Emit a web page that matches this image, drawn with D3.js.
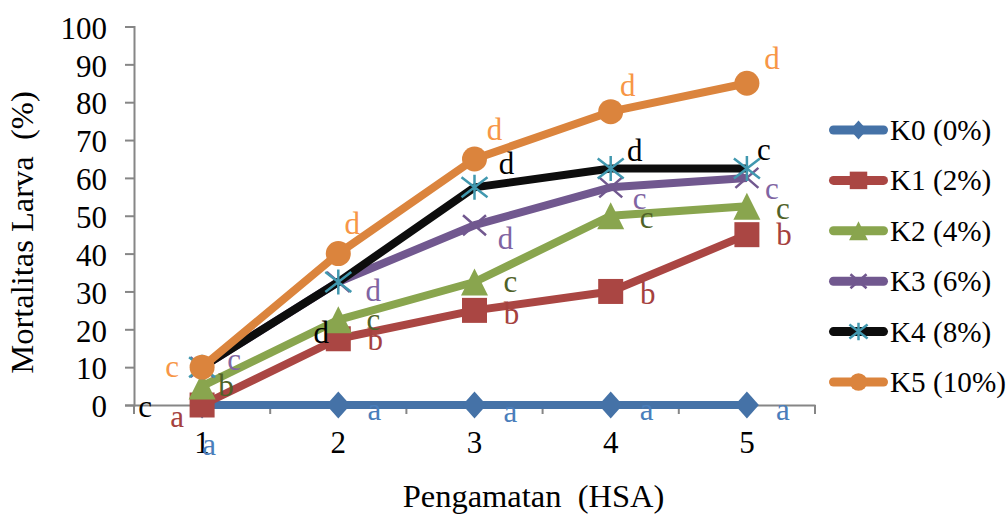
<!DOCTYPE html>
<html>
<head>
<meta charset="utf-8">
<script src="https://cdn.jsdelivr.net/npm/d3@7/dist/d3.min.js"></script>
<style>
  html, body { margin: 0; padding: 0; background: #fff; }
  svg { display: block; }
  text { font-family: "Liberation Serif", "Times New Roman", serif; }
</style>
</head>
<body>
<svg id="chart" width="1007" height="516"></svg>
<script>
// ---- data ----
const categories = ["1", "2", "3", "4", "5"];
const seriesNames = ["K0 (0%)", "K1 (2%)", "K2 (4%)", "K3 (6%)", "K4 (8%)", "K5 (10%)"];
const k0 = [0, 0, 0, 0, 0];
const k1 = [0, 17.5, 25, 30, 45];
const k2 = [5, 22.5, 32.5, 50, 52.5];
const k3 = [10, 32.5, 47.5, 57.5, 60];
const k4 = [10, 32.5, 57.5, 62.5, 62.5];
const k5 = [10, 40, 65, 77.5, 85];
const k0Letters = ["a", "a", "a", "a", "a"];
const k1Letters = ["a", "b", "b", "b", "b"];
const k2Letters = ["b", "c", "c", "c", "c"];
const k3Letters = ["c", "d", "d", "c", "c"];
const k4Letters = ["c", "d", "d", "d", "c"];
const k5Letters = ["c", "d", "d", "d", "d"];
const yTicks = [0, 10, 20, 30, 40, 50, 60, 70, 80, 90, 100];
const xTitle = "Pengamatan  (HSA)";
const yTitle = "Mortalitas Larva  (%)";

// ---- styles ----
const lineColors = ["#4572A7", "#AA4643", "#89A54E", "#71588F", "#0d0d0d", "#DB843D"];
const markerColors = ["#4572A7", "#AA4643", "#89A54E", "#71588F", "#4198AF", "#DB843D"];
const labelColors = ["#4A7EBB", "#A5413E", "#4F6228", "#8064A2", "#000000", "#F79646"];
const markerTypes = ["diamond", "square", "triangle", "x", "star", "circle"];
// label placement offsets (pixels from the point: dx, dy of glyph center)
const labelOffsets = [
  [[7, 43], [36, 8], [36, 10], [36, 8], [36, 8]],
  [[-25, 15], [37, 1], [37, 3], [37, 2], [37, 0]],
  [[24, -1], [35, 3], [36, 3], [36, 5], [36, 6]],
  [[32, -4], [35, 9], [31, 13], [29, 15], [25, 14]],
  [[-57, 43], [-17, 51], [32, -24], [24, -18], [17, -15]],
  [[-30, 3], [14, -30], [20, -29], [17, -26], [25, -25]]
];

const values = [k0, k1, k2, k3, k4, k5];
const letters = [k0Letters, k1Letters, k2Letters, k3Letters, k4Letters, k5Letters];

const svg = d3.select("#chart");
const plotLeft = 134, plotRight = 815, plotTop = 26.5, plotBottom = 405;
const axisColor = "#868686";
const tickFont = 31, titleFont = 32.5, labelFont = 31, legendFont = 29.2;

const x = d3.scaleBand().domain(categories).range([plotLeft, plotRight]);
const y = d3.scaleLinear().domain([0, 100]).range([plotBottom, plotTop]);
const cx = c => x(c) + x.bandwidth() / 2;

// ---- y axis ----
const yAxis = d3.axisLeft(y).tickValues(yTicks).tickSize(9).tickPadding(18);
const gy = svg.append("g").attr("transform", `translate(${plotLeft},0)`).call(yAxis);
gy.select(".domain").attr("stroke", axisColor).attr("stroke-width", 2);
gy.selectAll(".tick line").attr("stroke", axisColor).attr("stroke-width", 2);
gy.selectAll(".tick text").attr("font-family", "Liberation Serif").attr("font-size", tickFont)
  .attr("fill", "#000").attr("dy", "0.38em");

// ---- x axis ----
const xAxis = d3.axisBottom(x).tickSize(0).tickPadding(0);
const gx = svg.append("g").attr("transform", `translate(0,${plotBottom})`).call(xAxis);
gx.select(".domain").attr("stroke", axisColor).attr("stroke-width", 2);
gx.selectAll(".tick text").attr("font-family", "Liberation Serif").attr("font-size", tickFont)
  .attr("fill", "#000").attr("dy", null).attr("y", 48);
const bounds = categories.map(c => x(c)).concat([x(categories[categories.length - 1]) + x.step()]);
gx.selectAll(".sep").data(bounds).enter().append("line")
  .attr("x1", d => d).attr("x2", d => d).attr("y1", 0).attr("y2", 9)
  .attr("stroke", axisColor).attr("stroke-width", 2);

// ---- axis titles ----
svg.append("text").attr("x", 533.5).attr("y", 507).attr("text-anchor", "middle")
  .attr("font-size", titleFont).attr("xml:space", "preserve").style("white-space", "pre").text(xTitle);
svg.append("text").attr("transform", "translate(33,232.5) rotate(-90)").attr("text-anchor", "middle")
  .attr("font-size", titleFont).attr("xml:space", "preserve").style("white-space", "pre").text(yTitle);

// ---- markers ----
function drawMarker(g, type, color, s) {
  if (type === "diamond") {
    g.append("path").attr("d", `M0,${-13.5 * s}L${12 * s},0L0,${13.5 * s}L${-12 * s},0Z`).attr("fill", color);
  } else if (type === "square") {
    g.append("rect").attr("x", -12.5 * s).attr("y", -12.5 * s).attr("width", 25 * s).attr("height", 25 * s).attr("fill", color);
  } else if (type === "triangle") {
    g.append("path").attr("d", `M0,${-13.5 * s}L${13.5 * s},${13.5 * s}L${-13.5 * s},${13.5 * s}Z`).attr("fill", color);
  } else if (type === "x") {
    g.append("path").attr("d", `M${-11.5 * s},${-10 * s}L${11.5 * s},${10 * s}M${-11.5 * s},${10 * s}L${11.5 * s},${-10 * s}`)
      .attr("stroke", color).attr("stroke-width", 2.5).attr("fill", "none");
  } else if (type === "star") {
    g.append("path").attr("d", `M${-13 * s},${-10 * s}L${13 * s},${10 * s}M${-13 * s},${10 * s}L${13 * s},${-10 * s}M0,${-12.5 * s}L0,${12.5 * s}`)
      .attr("stroke", color).attr("stroke-width", 2.5).attr("fill", "none");
  } else if (type === "circle") {
    g.append("circle").attr("r", 12.5 * s).attr("fill", color);
  }
}

// ---- series ----
const line = d3.line().x((d, i) => cx(categories[i])).y(d => y(d));
values.forEach((vals, si) => {
  const g = svg.append("g");
  g.append("path").datum(vals).attr("d", line).attr("fill", "none")
    .attr("stroke", lineColors[si]).attr("stroke-width", 8)
    .attr("stroke-linejoin", "round").attr("stroke-linecap", "butt");
  vals.forEach((v, i) => {
    const mg = g.append("g").attr("transform", `translate(${cx(categories[i])},${y(v)})`);
    drawMarker(mg, markerTypes[si], markerColors[si], 1);
  });
});

// ---- data labels ----
values.forEach((vals, si) => {
  vals.forEach((v, i) => {
    const L = letters[si][i];
    const off = labelOffsets[si][i];
    const base = (L === "b" || L === "d") ? 10.5 : 7;
    svg.append("text")
      .attr("x", cx(categories[i]) + off[0])
      .attr("y", y(v) + off[1] + base)
      .attr("text-anchor", "middle")
      .attr("font-size", labelFont)
      .attr("fill", labelColors[si])
      .text(L);
  });
});

// ---- legend ----
const legend = svg.append("g");
seriesNames.forEach((name, si) => {
  const ly = 130 + si * 50.4;
  const g = legend.append("g").attr("transform", `translate(0,${ly})`);
  g.append("line").attr("x1", 833.5).attr("x2", 883.5).attr("y1", 0).attr("y2", 0)
    .attr("stroke", lineColors[si]).attr("stroke-width", 9).attr("stroke-linecap", "round");
  const mg = g.append("g").attr("transform", "translate(858.5,0)");
  drawMarker(mg, markerTypes[si], markerColors[si], 0.7);
  g.append("text").attr("x", 890).attr("y", 0).attr("dy", "0.345em")
    .attr("font-size", legendFont).attr("fill", "#000").text(name);
});
</script>
</body>
</html>
